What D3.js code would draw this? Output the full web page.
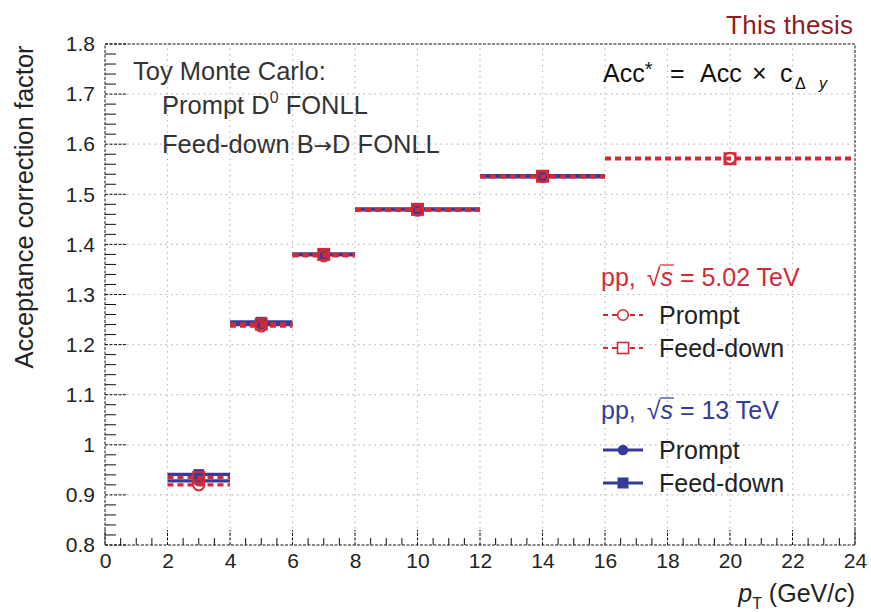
<!DOCTYPE html>
<html>
<head>
<meta charset="utf-8">
<script src="https://cdn.jsdelivr.net/npm/d3@7"></script>
<style>
  body { margin: 0; background: #fff; }
  text { font-family: "Liberation Sans", Arial, sans-serif; }
</style>
</head>
<body>
<div class="graph1"></div>
<script>
let width = 871;
let height = 612;

// bins in pT (GeV/c)
let binLow = [2, 4, 6, 8, 12, 16];
let binHigh = [4, 6, 8, 12, 16, 24];

// pp 5.02 TeV
let prompt502 = [0.920, 1.237, 1.377, 1.468, 1.535, 1.572];
let feed502 = [0.935, 1.241, 1.380, 1.470, 1.536, 1.571];
// pp 13 TeV (no last bin)
let prompt13 = [0.928, 1.240, 1.379, 1.469, 1.535];
let feed13 = [0.941, 1.245, 1.381, 1.471, 1.537];

let xTicks = [0, 2, 4, 6, 8, 10, 12, 14, 16, 18, 20, 22, 24];
let yTicks = [0.8, 0.9, 1, 1.1, 1.2, 1.3, 1.4, 1.5, 1.6, 1.7, 1.8];

let red = "#d42a35";
let blue = "#353b9a";

let m = {left: 105, right: 16, top: 44, bottom: 67};

let svg = d3.select('.graph1')
    .append('svg')
    .attr('width', width)
    .attr('height', height);

let x = d3.scaleLinear().domain([0, 24]).range([m.left, width - m.right]);
let y = d3.scaleLinear().domain([0.8, 1.8]).range([height - m.bottom, m.top]);

// grille pointillée
svg.append('g').selectAll('line')
    .data(xTicks.slice(1, -1))
    .enter().append('line')
    .attr('x1', d => x(d)).attr('x2', d => x(d))
    .attr('y1', y(0.8)).attr('y2', y(1.8))
    .attr('stroke', '#bbb').attr('stroke-width', 1.2)
    .attr('stroke-dasharray', '1.5,4');
svg.append('g').selectAll('line')
    .data(yTicks.slice(1, -1))
    .enter().append('line')
    .attr('x1', x(0)).attr('x2', x(24))
    .attr('y1', d => y(d)).attr('y2', d => y(d))
    .attr('stroke', '#bbb').attr('stroke-width', 1.2)
    .attr('stroke-dasharray', '1.5,4');

// axes
let xAxis = d3.axisBottom(x).tickValues(xTicks).tickSize(0).tickPadding(8)
    .tickFormat(d3.format('d'));
let gx = svg.append('g')
    .attr('transform', 'translate(0,' + y(0.8) + ')')
    .call(xAxis);
gx.select('.domain').remove();
gx.selectAll('text').attr('font-size', 21).attr('fill', '#222')
    .attr('font-family', '"Liberation Sans", Arial, sans-serif');

let yAxis = d3.axisLeft(y).tickValues(yTicks).tickSize(0).tickPadding(10)
    .tickFormat(d => d3.format('')(+d.toFixed(1)));
let gy = svg.append('g')
    .attr('transform', 'translate(' + x(0) + ',0)')
    .call(yAxis);
gy.select('.domain').remove();
gy.selectAll('text').attr('font-size', 21).attr('fill', '#222')
    .attr('font-family', '"Liberation Sans", Arial, sans-serif');

// graduations mineures et majeures
let xMinor = d3.range(0, 24.01, 0.5);
svg.append('g').selectAll('line')
    .data(xMinor)
    .enter().append('line')
    .attr('x1', d => x(d)).attr('x2', d => x(d))
    .attr('y1', y(0.8))
    .attr('y2', d => y(0.8) - (d % 2 === 0 ? 15 : 7))
    .attr('stroke', '#111').attr('stroke-width', 1)
    .attr('stroke-dasharray', d => d % 2 === 0 ? '3,1.5' : null);
let yMinor = d3.range(0, 51).map(i => 0.8 + i * 0.02);
svg.append('g').selectAll('line')
    .data(yMinor)
    .enter().append('line')
    .attr('y1', d => y(d)).attr('y2', d => y(d))
    .attr('x1', x(0))
    .attr('x2', (d, i) => x(0) + (i % 5 === 0 ? 22 : 11))
    .attr('stroke', '#111').attr('stroke-width', 1)
    .attr('stroke-dasharray', (d, i) => i % 5 === 0 ? '3,1.5' : null);

// cadre
svg.append('rect')
    .attr('x', x(0)).attr('y', y(1.8))
    .attr('width', x(24) - x(0)).attr('height', y(0.8) - y(1.8))
    .attr('fill', 'none').attr('stroke', '#111').attr('stroke-width', 1)
    .attr('stroke-dasharray', '3,1.5');

// titres des axes
svg.append('text')
    .attr('transform', 'translate(33,' + 207 + ') rotate(-90)')
    .attr('text-anchor', 'middle')
    .attr('font-size', 25.5).attr('fill', '#222')
    .text('Acceptance correction factor');

let xt = svg.append('text')
    .attr('x', x(24)).attr('y', 602)
    .attr('text-anchor', 'end')
    .attr('font-size', 25).attr('fill', '#222');
xt.append('tspan').attr('font-style', 'italic').text('p');
xt.append('tspan').attr('font-size', 16).attr('dy', 7).text('T');
xt.append('tspan').attr('dy', -7).text(' (GeV/');
xt.append('tspan').attr('font-style', 'italic').text('c');
xt.append('tspan').text(')');

// séries
function drawSeries(vals, color, dashed, marker, filled) {
    let g = svg.append('g');
    vals.forEach(function (d, i) {
        g.append('line')
            .attr('x1', x(binLow[i])).attr('x2', x(binHigh[i]))
            .attr('y1', y(d)).attr('y2', y(d))
            .attr('stroke', color).attr('stroke-width', 3.4)
            .attr('stroke-dasharray', dashed ? '6,4' : null);
        let cx = x((binLow[i] + binHigh[i]) / 2);
        if (marker === 'circle') {
            g.append('circle')
                .attr('cx', cx).attr('cy', y(d)).attr('r', filled ? 5.2 : 5.5)
                .attr('fill', filled ? color : 'none')
                .attr('stroke', color).attr('stroke-width', filled ? 0 : 2);
        } else {
            let s = filled ? 10.5 : 11;
            g.append('rect')
                .attr('x', cx - s / 2).attr('y', y(d) - s / 2)
                .attr('width', s).attr('height', s)
                .attr('fill', filled ? color : 'none')
                .attr('stroke', color).attr('stroke-width', filled ? 0 : 2);
        }
    });
}
drawSeries(prompt13, blue, false, 'circle', true);
drawSeries(feed13, blue, false, 'square', true);
drawSeries(feed502, red, true, 'square', false);
drawSeries(prompt502, red, true, 'circle', false);

// textes
svg.append('text').attr('x', 853).attr('y', 34).attr('text-anchor', 'end')
    .attr('font-size', 26).attr('fill', '#8e1c24')
    .attr('textLength', 127)
    .text('This thesis');

svg.append('text').attr('x', 133).attr('y', 80).attr('font-size', 25.5).attr('fill', '#333')
    .text('Toy Monte Carlo:');
let t2 = svg.append('text').attr('x', 162).attr('y', 114).attr('font-size', 25.5).attr('fill', '#333');
t2.append('tspan').text('Prompt D');
t2.append('tspan').attr('font-size', 16).attr('dy', -11).text('0');
t2.append('tspan').attr('dy', 11).text(' FONLL');
let t3 = svg.append('text').attr('x', 162).attr('y', 153).attr('font-size', 25.5).attr('fill', '#333');
t3.append('tspan').text('Feed-down B');
t3.append('tspan').attr('font-family', '"DejaVu Sans", sans-serif').attr('font-size', 22).text('\u2192');
t3.append('tspan').text('D FONLL');

let acc = svg.append('text').attr('y', 82).attr('font-size', 25).attr('fill', '#111');
acc.append('tspan').attr('x', 603).text('Acc');
acc.append('tspan').attr('font-size', 20).attr('dy', -6).text('*');
acc.append('tspan').attr('x', 670).attr('dy', 6).text('=');
acc.append('tspan').attr('x', 700).text('Acc');
acc.append('tspan').attr('x', 752).text('\u00d7');
acc.append('tspan').attr('x', 780).text('c');
acc.append('tspan').attr('font-size', 16).attr('dy', 7).attr('x', 795).text('\u0394');
acc.append('tspan').attr('font-size', 16).attr('font-style', 'italic').attr('x', 819).text('y');

// légende
function header(yy, color, energy) {
    let t = svg.append('text').attr('x', 601).attr('y', yy).attr('font-size', 25).attr('fill', color);
    t.append('tspan').text('pp, ');
    let r = t.append('tspan').attr('dx', 4).text('\u221a');
    let s = t.append('tspan').attr('font-style', 'italic').text('s');
    t.append('tspan').text(' = ' + energy + ' TeV');
    // barre de la racine
    let rb = r.node().getBBox();
    let sb = s.node().getBBox();
    svg.append('line')
        .attr('x1', rb.x + rb.width - 1).attr('x2', sb.x + sb.width + 1)
        .attr('y1', rb.y + 2).attr('y2', rb.y + 2)
        .attr('stroke', color).attr('stroke-width', 1.2);
}
function entry(yy, color, dashed, marker, filled, label) {
    svg.append('line').attr('x1', 603).attr('x2', 643).attr('y1', yy).attr('y2', yy)
        .attr('stroke', color).attr('stroke-width', dashed ? 1.8 : 2.8)
        .attr('stroke-dasharray', dashed ? '5,4' : null);
    if (marker === 'circle') {
        svg.append('circle').attr('cx', 623).attr('cy', yy).attr('r', 5.3)
            .attr('fill', filled ? color : '#fff').attr('stroke', color).attr('stroke-width', filled ? 0 : 1.6);
    } else {
        svg.append('rect').attr('x', 617.5).attr('y', yy - 5.5).attr('width', 11).attr('height', 11)
            .attr('fill', filled ? color : '#fff').attr('stroke', color).attr('stroke-width', filled ? 0 : 1.6);
    }
    svg.append('text').attr('x', 659).attr('y', yy + 9).attr('font-size', 25).attr('fill', '#222')
        .text(label);
}
header(286, red, '5.02');
entry(315, red, true, 'circle', false, 'Prompt');
entry(348, red, true, 'square', false, 'Feed-down');
header(419, blue, '13');
entry(450, blue, false, 'circle', true, 'Prompt');
entry(483, blue, false, 'square', true, 'Feed-down');
</script>
</body>
</html>
